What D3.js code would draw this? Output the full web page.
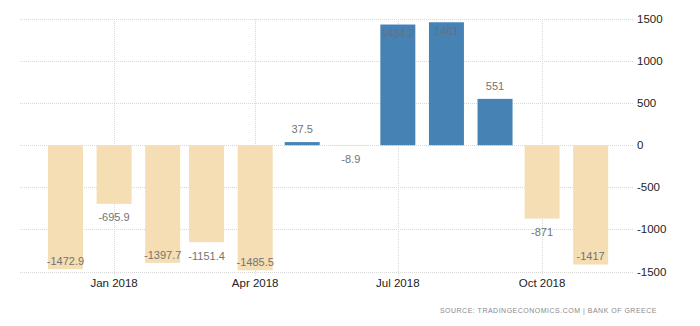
<!DOCTYPE html>
<html><head><meta charset="utf-8">
<script src="https://cdn.jsdelivr.net/npm/d3@7"></script>
<style>
html,body{margin:0;padding:0;background:#fff;}
svg{display:block;}
</style></head>
<body>
<script>
const months = ["2017-12-01","2018-01-01","2018-02-01","2018-03-01","2018-04-01","2018-05-01","2018-06-01","2018-07-01","2018-08-01","2018-09-01","2018-10-01","2018-11-01"];
const values = [-1472.9,-695.9,-1397.7,-1151.4,-1485.5,37.5,-8.9,1434.2,1461,551,-871,-1417];
const labels = ["-1472.9","-695.9","-1397.7","-1151.4","-1485.5","37.5","-8.9","1434.2","1461","551","-871","-1417"];
const yTicks = [-1500,-1000,-500,0,500,1000,1500];
const xTicks = ["2018-01-01","2018-04-01","2018-07-01","2018-10-01"];
const sourceText = "SOURCE: TRADINGECONOMICS.COM | BANK OF GREECE";

const W = 700, H = 326;
const parse = d3.utcParse("%Y-%m-%d");
const svg = d3.select("body").append("svg").attr("width", W).attr("height", H);

const x = d3.scaleUtc().domain([parse("2017-11-02"), parse("2018-11-28")]).range([20, 633]);
const y = d3.scaleLinear().domain([-1500, 1500]).range([271.5, 19]);
const plotTop = y(1500), plotBottom = y(-1500);
const barW = 35;
const font = "'Liberation Sans', Arial, sans-serif";

// horizontal grid
svg.append("g").selectAll("line").data(yTicks).join("line")
  .attr("x1", 20).attr("x2", 633)
  .attr("y1", d => Math.round(y(d)) + 0.5).attr("y2", d => Math.round(y(d)) + 0.5)
  .attr("stroke", "#d8d8d8").attr("stroke-dasharray", "1,1");

// vertical grid
svg.append("g").selectAll("line").data(xTicks).join("line")
  .attr("x1", d => Math.round(x(parse(d))) + 0.5).attr("x2", d => Math.round(x(parse(d))) + 0.5)
  .attr("y1", plotTop).attr("y2", plotBottom + 4)
  .attr("stroke", "#d8d8d8").attr("stroke-dasharray", "1,1");

// bars
const data = months.map((m, i) => ({date: parse(m), v: values[i], label: labels[i]}));
svg.append("g").selectAll("rect").data(data).join("rect")
  .attr("x", d => x(d.date) - barW / 2)
  .attr("width", barW)
  .attr("y", d => Math.min(y(d.v), y(0)))
  .attr("height", d => Math.max(Math.abs(y(d.v) - y(0)), 0.8))
  .attr("fill", d => d.v >= 0 ? "#4682b4" : "#f5deb3");

// value labels
svg.append("g").selectAll("text").data(data).join("text")
  .attr("x", d => x(d.date))
  .attr("y", d => {
    const yv = y(d.v);
    if (d.v >= 0) return (yv - 20 < plotTop) ? yv + 9 : yv - 12.5;
    return (yv + 21 > plotBottom) ? yv - 8 : yv + 13.5;
  })
  .attr("dy", "0.35em")
  .attr("text-anchor", "middle")
  .attr("font-family", font).attr("font-size", "11px")
  .attr("fill", d => d.v >= 0 && y(d.v) - 20 < plotTop ? "#5f7386" : "#737373")
  .text(d => d.label);

// y axis labels (right)
svg.append("g").selectAll("text").data(yTicks).join("text")
  .attr("x", 637).attr("y", d => y(d)).attr("dy", "0.35em")
  .attr("font-family", font).attr("font-size", "11.5px").attr("fill", "#222")
  .text(d => d);

// x axis labels
const fmt = d3.utcFormat("%b %Y");
svg.append("g").selectAll("text").data(xTicks).join("text")
  .attr("x", d => x(parse(d))).attr("y", 283).attr("dy", "0.35em")
  .attr("text-anchor", "middle")
  .attr("font-family", font).attr("font-size", "11.5px").attr("fill", "#222")
  .text(d => fmt(parse(d)));

// source
svg.append("text")
  .attr("x", 657).attr("y", 311).attr("dy", "0.35em")
  .attr("text-anchor", "end")
  .attr("font-family", font).attr("font-size", "7px").attr("fill", "#8a8a8a")
  .style("letter-spacing", "0.5px")
  .text(sourceText);
</script>
</body></html>
